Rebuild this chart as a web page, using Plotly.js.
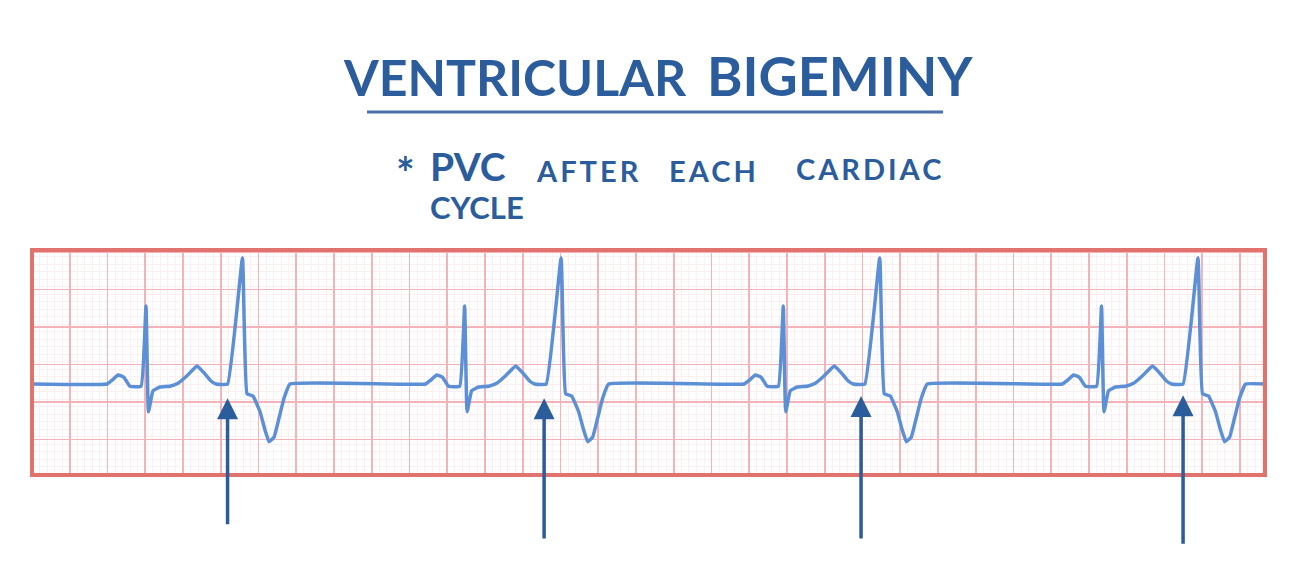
<!DOCTYPE html>
<html>
<head>
<meta charset="utf-8">
<script src="https://cdn.plot.ly/plotly-3.0.1.min.js"></script>
<style>
  html, body { margin: 0; padding: 0; background: #ffffff; }
  #chart { width: 1308px; height: 578px; }
</style>
</head>
<body>
<div id="chart"></div>
<script>
// ---- Data (time in seconds, amplitude in mV, read from the strip) ----
const ecgTime = [
  0.000, 0.397, 0.424, 0.456, 0.487, 0.519, 0.578, 0.604, 0.617, 0.641, 0.678, 0.731, 0.774, 0.821, 0.874, 0.911, 0.948, 0.975, 1.036,
  1.115, 1.139, 1.171, 1.208, 1.234, 1.256, 1.282, 1.309, 1.335, 1.367,
  2.085, 2.112, 2.144, 2.175, 2.207, 2.266, 2.292, 2.305, 2.329, 2.366, 2.419, 2.462, 2.509, 2.562, 2.599, 2.636, 2.663, 2.724,
  2.803, 2.827, 2.859, 2.896, 2.922, 2.944, 2.970, 2.997, 3.023, 3.055,
  3.773, 3.800, 3.832, 3.863, 3.895, 3.954, 3.980, 3.993, 4.017, 4.054, 4.107, 4.150, 4.197, 4.250, 4.287, 4.324, 4.351, 4.412,
  4.491, 4.515, 4.547, 4.584, 4.610, 4.632, 4.658, 4.685, 4.711, 4.743,
  5.459, 5.486, 5.518, 5.549, 5.581, 5.640, 5.666, 5.679, 5.703, 5.740, 5.793, 5.836, 5.883, 5.936, 5.973, 6.010, 6.037, 6.098,
  6.177, 6.201, 6.233, 6.270, 6.296, 6.318, 6.344, 6.371, 6.397, 6.429, 6.532
];
const ecgMv = [
  0, 0, 0.05, 0.12, 0.09, -0.03, -0.03, 1.04, -0.37, -0.09, -0.04, -0.03, 0.01, 0.11, 0.24, 0.15, 0.04, 0, 0,
  1.68, -0.13, -0.16, -0.37, -0.61, -0.77, -0.71, -0.45, -0.19, 0,
  0, 0.05, 0.12, 0.09, -0.03, -0.03, 1.04, -0.37, -0.09, -0.04, -0.03, 0.01, 0.11, 0.24, 0.15, 0.04, 0, 0,
  1.68, -0.13, -0.16, -0.37, -0.61, -0.77, -0.71, -0.45, -0.19, 0,
  0, 0.05, 0.12, 0.09, -0.03, -0.03, 1.04, -0.37, -0.09, -0.04, -0.03, 0.01, 0.11, 0.24, 0.15, 0.04, 0, 0,
  1.68, -0.13, -0.16, -0.37, -0.61, -0.77, -0.71, -0.45, -0.19, 0,
  0, 0.05, 0.12, 0.09, -0.03, -0.03, 1.04, -0.37, -0.09, -0.04, -0.03, 0.01, 0.11, 0.24, 0.15, 0.04, 0, 0,
  1.68, -0.13, -0.16, -0.37, -0.61, -0.77, -0.71, -0.45, -0.19, 0, 0
];
// PVC markers (arrows): onset time, tip level, tail level
const pvcTime  = [1.036, 2.713, 4.392, 6.098];
const pvcTipMv = [-0.19, -0.19, -0.16, -0.15];
const pvcTailMv = [-1.89, -2.08, -2.08, -2.15];

const titleWords = ["VENTRICULAR", "BIGEMINY"];
const noteWords = ["*", "PVC", "AFTER", "EACH", "CARDIAC", "CYCLE"];

// ---- Styles ----
const ink = "#2b5c9c";
const traceColor = "#5b8fd6";
const font = "Lato, 'Open Sans', sans-serif";

const trace = {
  type: "scatter", mode: "lines",
  x: ecgTime, y: ecgMv,
  line: { color: traceColor, width: 3.5, shape: "spline", smoothing: 0.3 },
  hoverinfo: "skip"
};

const annotations = [];
pvcTime.forEach((t, i) => {
  annotations.push({
    x: t, y: pvcTipMv[i], xref: "x", yref: "y",
    ax: t, ay: pvcTailMv[i], axref: "x", ayref: "y",
    text: "", showarrow: true, arrowhead: 2, arrowsize: 1.2, arrowwidth: 3.5,
    arrowcolor: ink, standoff: 0
  });
});

function word(txt, px, pyCenter, size, weight, spacing, align) {
  const t = spacing ? `<span style="letter-spacing:${spacing}px">${txt}</span>` : txt;
  return {
    text: t, xref: "paper", yref: "paper",
    x: (px - 32) / 1233, y: (475 - pyCenter) / 225,
    xanchor: "left", yanchor: "middle", showarrow: false, align: align || "left",
    font: { family: font, size: size, color: ink, weight: weight }
  };
}
annotations.push(word(titleWords[0], 341, 77, 50, 700, 0));
annotations.push(word(titleWords[1], 705, 75, 54, 700, 0));
annotations.push(word(noteWords[0], 394, 172, 44, 700, 0));
// "PVC" and "CYCLE" share the left margin: one two-line block
annotations.push({
  text: `<span style="font-size:39px">${noteWords[1]}</span><br><span style="font-size:31px">${noteWords[5]}</span>`,
  xref: "paper", yref: "paper",
  x: (428 - 32) / 1233, y: (475 - 184) / 225,
  xanchor: "left", yanchor: "middle", showarrow: false, align: "left",
  font: { family: font, size: 29, color: ink, weight: 700 }
});
annotations.push(word(noteWords[2], 534, 170, 29, 700, 3));
annotations.push(word(noteWords[3], 667, 170, 29, 700, 3));
annotations.push(word(noteWords[4], 794, 169, 29, 700, 3));

const layout = {
  width: 1308, height: 578,
  margin: { l: 32, r: 43, t: 250, b: 103, pad: 0 },
  paper_bgcolor: "#ffffff", plot_bgcolor: "#ffffff",
  showlegend: false,
  xaxis: {
    range: [0, 6.532], tick0: 0, dtick: 0.2,
    showgrid: true, gridcolor: "#f4b3b9", gridwidth: 1.8,
    minor: { dtick: 0.04, showgrid: true, gridcolor: "#fbf0f1", gridwidth: 1 },
    showticklabels: false, ticks: "", zeroline: false, showline: false, fixedrange: true
  },
  yaxis: {
    range: [-1.213, 1.787], tick0: -0.24, dtick: 0.5,
    showgrid: true, gridcolor: "#f4b3b9", gridwidth: 1.8,
    minor: { dtick: 0.1, showgrid: true, gridcolor: "#fbf0f1", gridwidth: 1 },
    showticklabels: false, ticks: "", zeroline: false, showline: false, fixedrange: true
  },
  shapes: [
    { type: "rect", xref: "paper", yref: "paper", x0: 0, x1: 1, y0: 0, y1: 1,
      line: { color: "#e2726d", width: 4 }, fillcolor: "rgba(0,0,0,0)" },
    { type: "line", xref: "paper", yref: "paper",
      x0: (367 - 32) / 1233, x1: (943 - 32) / 1233, y0: (475 - 112) / 225, y1: (475 - 112) / 225,
      line: { color: "#4a70a8", width: 3 } }
  ],
  annotations: annotations
};

Plotly.newPlot("chart", [trace], layout, { displayModeBar: false, staticPlot: true });
</script>
</body>
</html>
